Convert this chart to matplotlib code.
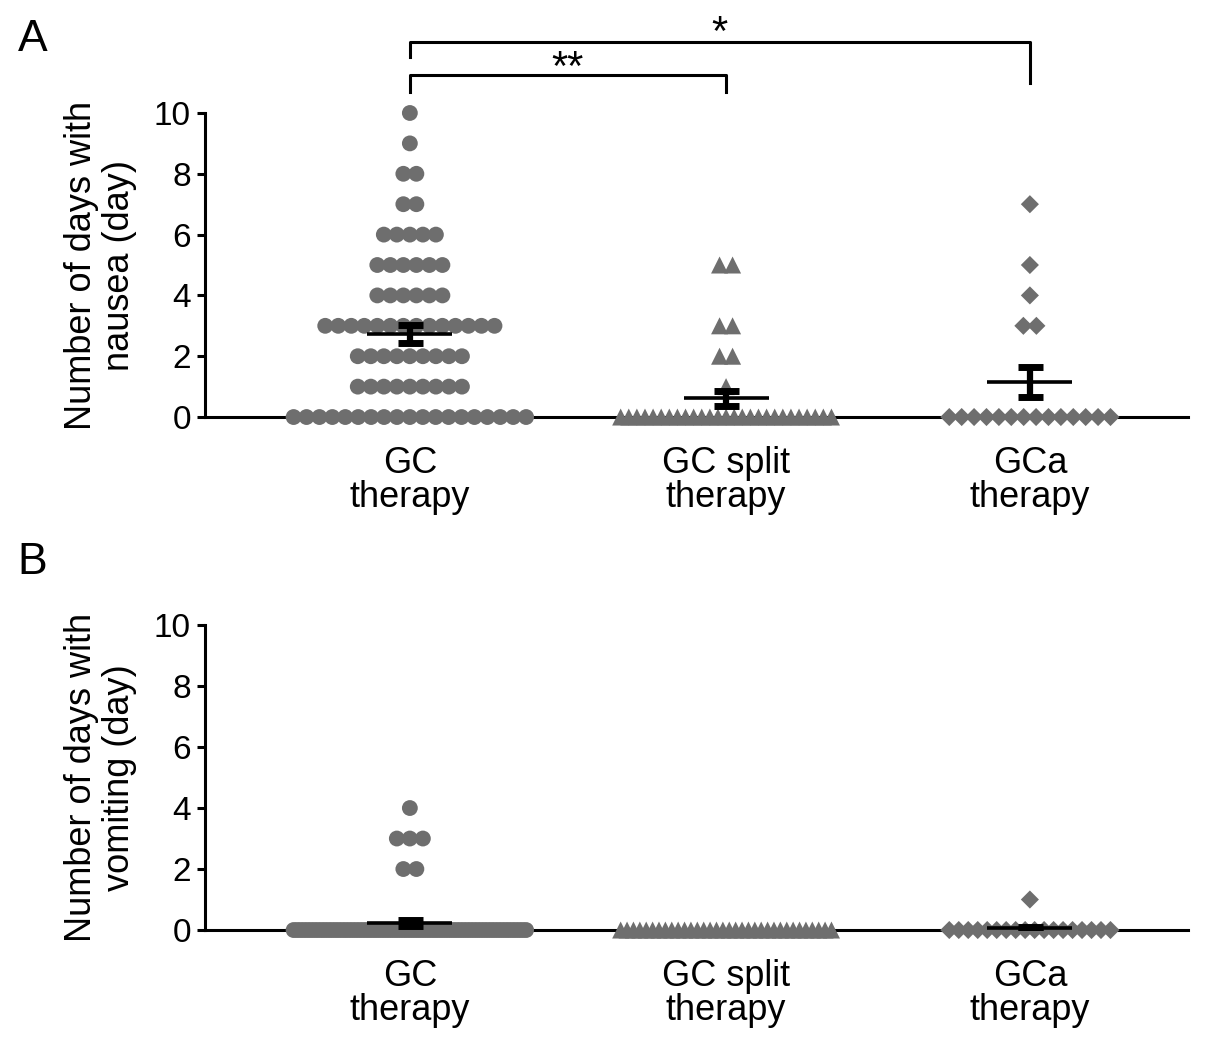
import numpy as np
import matplotlib.pyplot as plt

plt.rcParams['font.family'] = ['Liberation Sans', 'DejaVu Sans']

groups = ['GC\ntherapy', 'GC split\ntherapy', 'GCa\ntherapy']

# each group: distinct day values and how many patients sit on that row
nausea_gc_days = [10, 9, 8, 7, 6, 5, 4, 3, 2, 1, 0]
nausea_gc_counts = [1, 1, 2, 2, 5, 6, 6, 14, 9, 9, 19]
nausea_split_days = [5, 3, 2, 1, 0]
nausea_split_counts = [2, 2, 2, 1, 27]
nausea_gca_days = [7, 5, 4, 3, 0]
nausea_gca_counts = [1, 1, 1, 2, 14]

vomit_gc_days = [4, 3, 2, 0]
vomit_gc_counts = [1, 3, 2, 68]
vomit_split_days = [0]
vomit_split_counts = [34]
vomit_gca_days = [1, 0]
vomit_gca_counts = [1, 18]

markers = ['o', '^', 'D']
marker_sizes = [130, 150, 85]
dot_color = '#6e6e6e'
group_x = [1, 2.02, 3]
max_half = [0.375, 0.34, 0.26]
step = 0.042


def swarm(x0, days, counts, half):
    xs, ys = [], []
    for v, n in zip(days, counts):
        s = step if n < 2 else min(step, 2 * half / (n - 1))
        off = (np.arange(n) - (n - 1) / 2) * s
        xs.extend(x0 + off)
        ys.extend([v] * n)
    return xs, ys


def panel(ax, data, ylabel):
    for i, (days, counts) in enumerate(data):
        xs, ys = swarm(group_x[i], days, counts, max_half[i])
        ax.scatter(xs, ys, s=marker_sizes[i], marker=markers[i], color=dot_color,
                   edgecolors='none', clip_on=False, zorder=3)
        vals = np.repeat(days, counts)
        mean = vals.mean()
        sem = vals.std(ddof=1) / np.sqrt(len(vals))
        if sem > 0:
            ax.hlines(mean, group_x[i] - 0.137, group_x[i] + 0.137, color='k',
                      lw=2.6, zorder=5)
            ax.errorbar(group_x[i], mean, yerr=sem, fmt='none', ecolor='k',
                        elinewidth=4.5, capsize=9, capthick=5, zorder=6)

    ax.set_xlim(0.3387, 3.5097)
    ax.set_ylim(0, 10)
    ax.spines['top'].set_visible(False)
    ax.spines['right'].set_visible(False)
    ax.spines['left'].set_bounds(0, 10)
    ax.spines['left'].set_linewidth(2.2)
    ax.spines['bottom'].set_linewidth(2.2)
    ax.set_yticks(range(0, 11, 2))
    ax.tick_params(axis='y', labelsize=24, length=6, width=2.2, pad=4)
    ax.set_xticks(group_x)
    ax.set_xticklabels(groups)
    ax.tick_params(axis='x', labelsize=26, length=0, pad=21)
    for lbl in ax.get_xticklabels():
        lbl.set_linespacing(0.95)
    ax.set_ylabel(ylabel, fontsize=26, linespacing=1.1)
    ax.yaxis.set_label_coords(-0.069, 0.5)


fig = plt.figure(figsize=(12.05, 10.51), dpi=100)
axA = fig.add_axes([0.170, 0.6032, 0.8158, 0.2893])
axB = fig.add_axes([0.170, 0.1151, 0.8158, 0.2902])

panel(axA, [(nausea_gc_days, nausea_gc_counts),
            (nausea_split_days, nausea_split_counts),
            (nausea_gca_days, nausea_gca_counts)],
      'Number of days with\nnausea (day)')
panel(axB, [(vomit_gc_days, vomit_gc_counts),
            (vomit_split_days, vomit_split_counts),
            (vomit_gca_days, vomit_gca_counts)],
      'Number of days with\nvomiting (day)')

# significance brackets
axA.plot([group_x[0], group_x[0], group_x[2], group_x[2]], [11.84, 12.34, 12.34, 10.99],
         color='k', lw=2.2, clip_on=False)
axA.text((group_x[0] + group_x[2]) / 2, 11.95, '*', ha='center', va='bottom', fontsize=30)
axA.plot([group_x[0], group_x[0], group_x[1], group_x[1]], [10.69, 11.25, 11.25, 10.69],
         color='k', lw=2.2, clip_on=False)
axA.text((group_x[0] + group_x[1]) / 2, 10.8, '**', ha='center', va='bottom', fontsize=30)

fig.text(0.027, 0.962, 'A', fontsize=32, ha='center', va='center')
fig.text(0.027, 0.465, 'B', fontsize=32, ha='center', va='center')

fig.savefig('out.png', dpi=100)
